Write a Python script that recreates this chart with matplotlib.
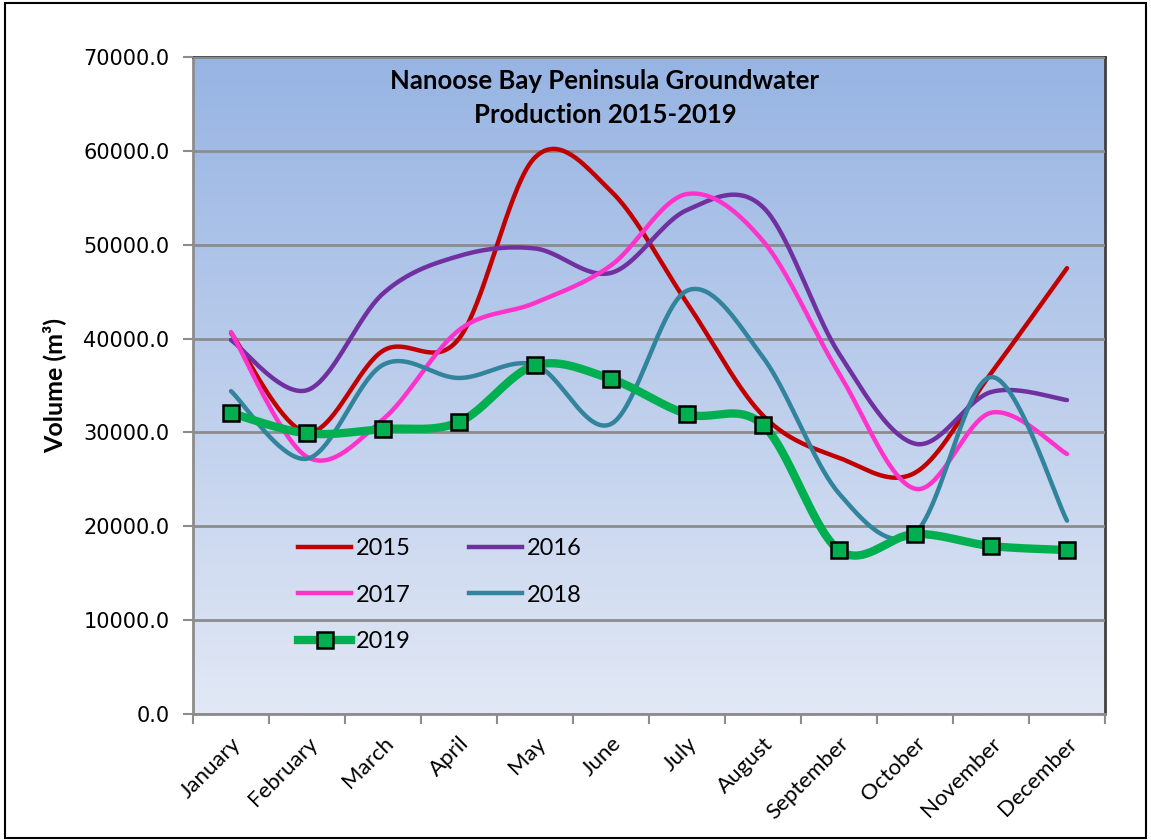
import numpy as np
import matplotlib
matplotlib.use("Agg")
import matplotlib.pyplot as plt
from matplotlib.lines import Line2D

months = ["January", "February", "March", "April", "May", "June", "July",
          "August", "September", "October", "November", "December"]
y2015 = [40600, 30000, 38700, 40000, 59300, 55700, 43800, 31800, 27300, 25700, 36300, 47500]
y2016 = [39850, 34500, 44800, 48800, 49600, 47000, 53700, 54000, 38400, 28800, 34300, 33450]
y2017 = [40700, 27400, 31400, 40900, 43800, 47800, 55400, 50400, 36300, 24000, 32100, 27700]
y2018 = [34400, 27200, 37200, 35800, 37200, 30900, 45100, 38000, 23500, 19300, 35900, 20600]
y2019 = [32070, 29900, 30360, 31100, 37150, 35690, 31960, 30800, 17450, 19180, 17900, 17470]
years = ["2015", "2016", "2017", "2018", "2019"]
colors = ["#C00000", "#7030A0", "#FF33CC", "#31849B", "#00B050"]


def smooth(xs, ys, n=40):
    xs = np.asarray(xs, float)
    ys = np.asarray(ys, float)
    px = np.concatenate([[xs[0]], xs, [xs[-1]]])
    py = np.concatenate([[ys[0]], ys, [ys[-1]]])
    ox, oy = [], []
    t = np.linspace(0, 1, n)
    for i in range(1, len(px) - 2):
        p0x, p1x, p2x, p3x = px[i - 1:i + 3]
        p0y, p1y, p2y, p3y = py[i - 1:i + 3]
        c1x = p1x + (p2x - p0x) / 6
        c1y = p1y + (p2y - p0y) / 6
        c2x = p2x - (p3x - p1x) / 6
        c2y = p2y - (p3y - p1y) / 6
        bx = (1 - t) ** 3 * p1x + 3 * (1 - t) ** 2 * t * c1x + 3 * (1 - t) * t ** 2 * c2x + t ** 3 * p2x
        by = (1 - t) ** 3 * p1y + 3 * (1 - t) ** 2 * t * c1y + 3 * (1 - t) * t ** 2 * c2y + t ** 3 * p2y
        ox.extend(bx)
        oy.extend(by)
    return np.array(ox), np.array(oy)


fig = plt.figure(figsize=(11.51, 8.40), dpi=100)
ax = fig.add_axes([193 / 1151, 126 / 840, 912 / 1151, 657 / 840])

# gradient background
grad = np.linspace(0, 1, 256).reshape(-1, 1)
top = np.array([0x97, 0xB4, 0xE3]) / 255
bot = np.array([0xE2, 0xE8, 0xF5]) / 255
img = (top * (1 - grad)[..., None] + bot * grad[..., None])
ax.imshow(img, aspect="auto", extent=[-0.5, 11.5, 0, 70000], zorder=0, origin="upper")

ax.set_xlim(-0.5, 11.5)
ax.set_ylim(0, 70000)
ax.set_yticks(np.arange(0, 70001, 10000))
ax.set_yticklabels([f"{v:.1f}" for v in np.arange(0, 70001, 10000)],
                   fontsize=15, family="DejaVu Sans")
ax.grid(axis="y", color="#8C8C8C", linewidth=2, zorder=1)
ax.set_axisbelow(False)

x = np.arange(12)
series = [y2015, y2016, y2017, y2018]
for ys, c, lab in zip(series, colors[:4], years[:4]):
    sx, sy = smooth(x, ys)
    ax.plot(sx, sy, color=c, lw=3.2, zorder=3, solid_capstyle="round")
sx, sy = smooth(x, y2019)
ax.plot(sx, sy, color=colors[4], lw=6, zorder=4, solid_capstyle="round")
ax.plot(x, y2019, ls="none", marker="s", ms=12, mfc=colors[4], mec="black", mew=1.8, zorder=5)

ax.set_xticks(x)
ax.set_xticks(np.arange(-0.5, 12, 1), minor=True)
ax.set_xticklabels(months, rotation=45, ha="right", rotation_mode="anchor",
                   fontsize=16, family="Lato")
ax.tick_params(axis="x", which="major", length=0, pad=14)
ax.tick_params(axis="x", which="minor", length=7, color="#8C8C8C", width=1.5)
ax.tick_params(axis="y", length=7, color="#8C8C8C", width=1.5, pad=10)
for s in ax.spines.values():
    s.set_color("#8C8C8C")
    s.set_linewidth(2)
ax.spines["top"].set_color("#404040")
ax.spines["right"].set_color("#404040")

ax.set_ylabel("Volume (m³)", fontsize=18, fontweight="bold", family="Lato", labelpad=12)

ax.text((605 - 193) / 912, 1 - (69 - 57) / 657, "Nanoose Bay Peninsula Groundwater\nProduction 2015-2019",
        transform=ax.transAxes, ha="center", va="top", fontsize=18.5, fontweight="bold",
        family="Lato", linespacing=1.5)

handles = [Line2D([], [], color=c, lw=3.2) for c in colors[:4]]
handles.append(Line2D([], [], color=colors[4], lw=6, marker="s", ms=12, mfc=colors[4], mec="black", mew=1.8))
order = [0, 2, 4, 1, 3]
leg = ax.legend([handles[i] for i in order], [years[i] for i in order], ncol=2, loc="upper left",
                bbox_to_anchor=((277 - 193) / 912, 1 - (517 - 57) / 657),
                frameon=False, prop={"family": "Lato", "size": 17},
                handlelength=2.25, columnspacing=2.45, labelspacing=1.08, handletextpad=0.2)

# outer border
fig.patches.append(plt.Rectangle((0.004, 0.002), 0.992, 0.994, transform=fig.transFigure,
                                 fill=False, edgecolor="black", linewidth=1.5))

fig.savefig("out.png", dpi=100)
